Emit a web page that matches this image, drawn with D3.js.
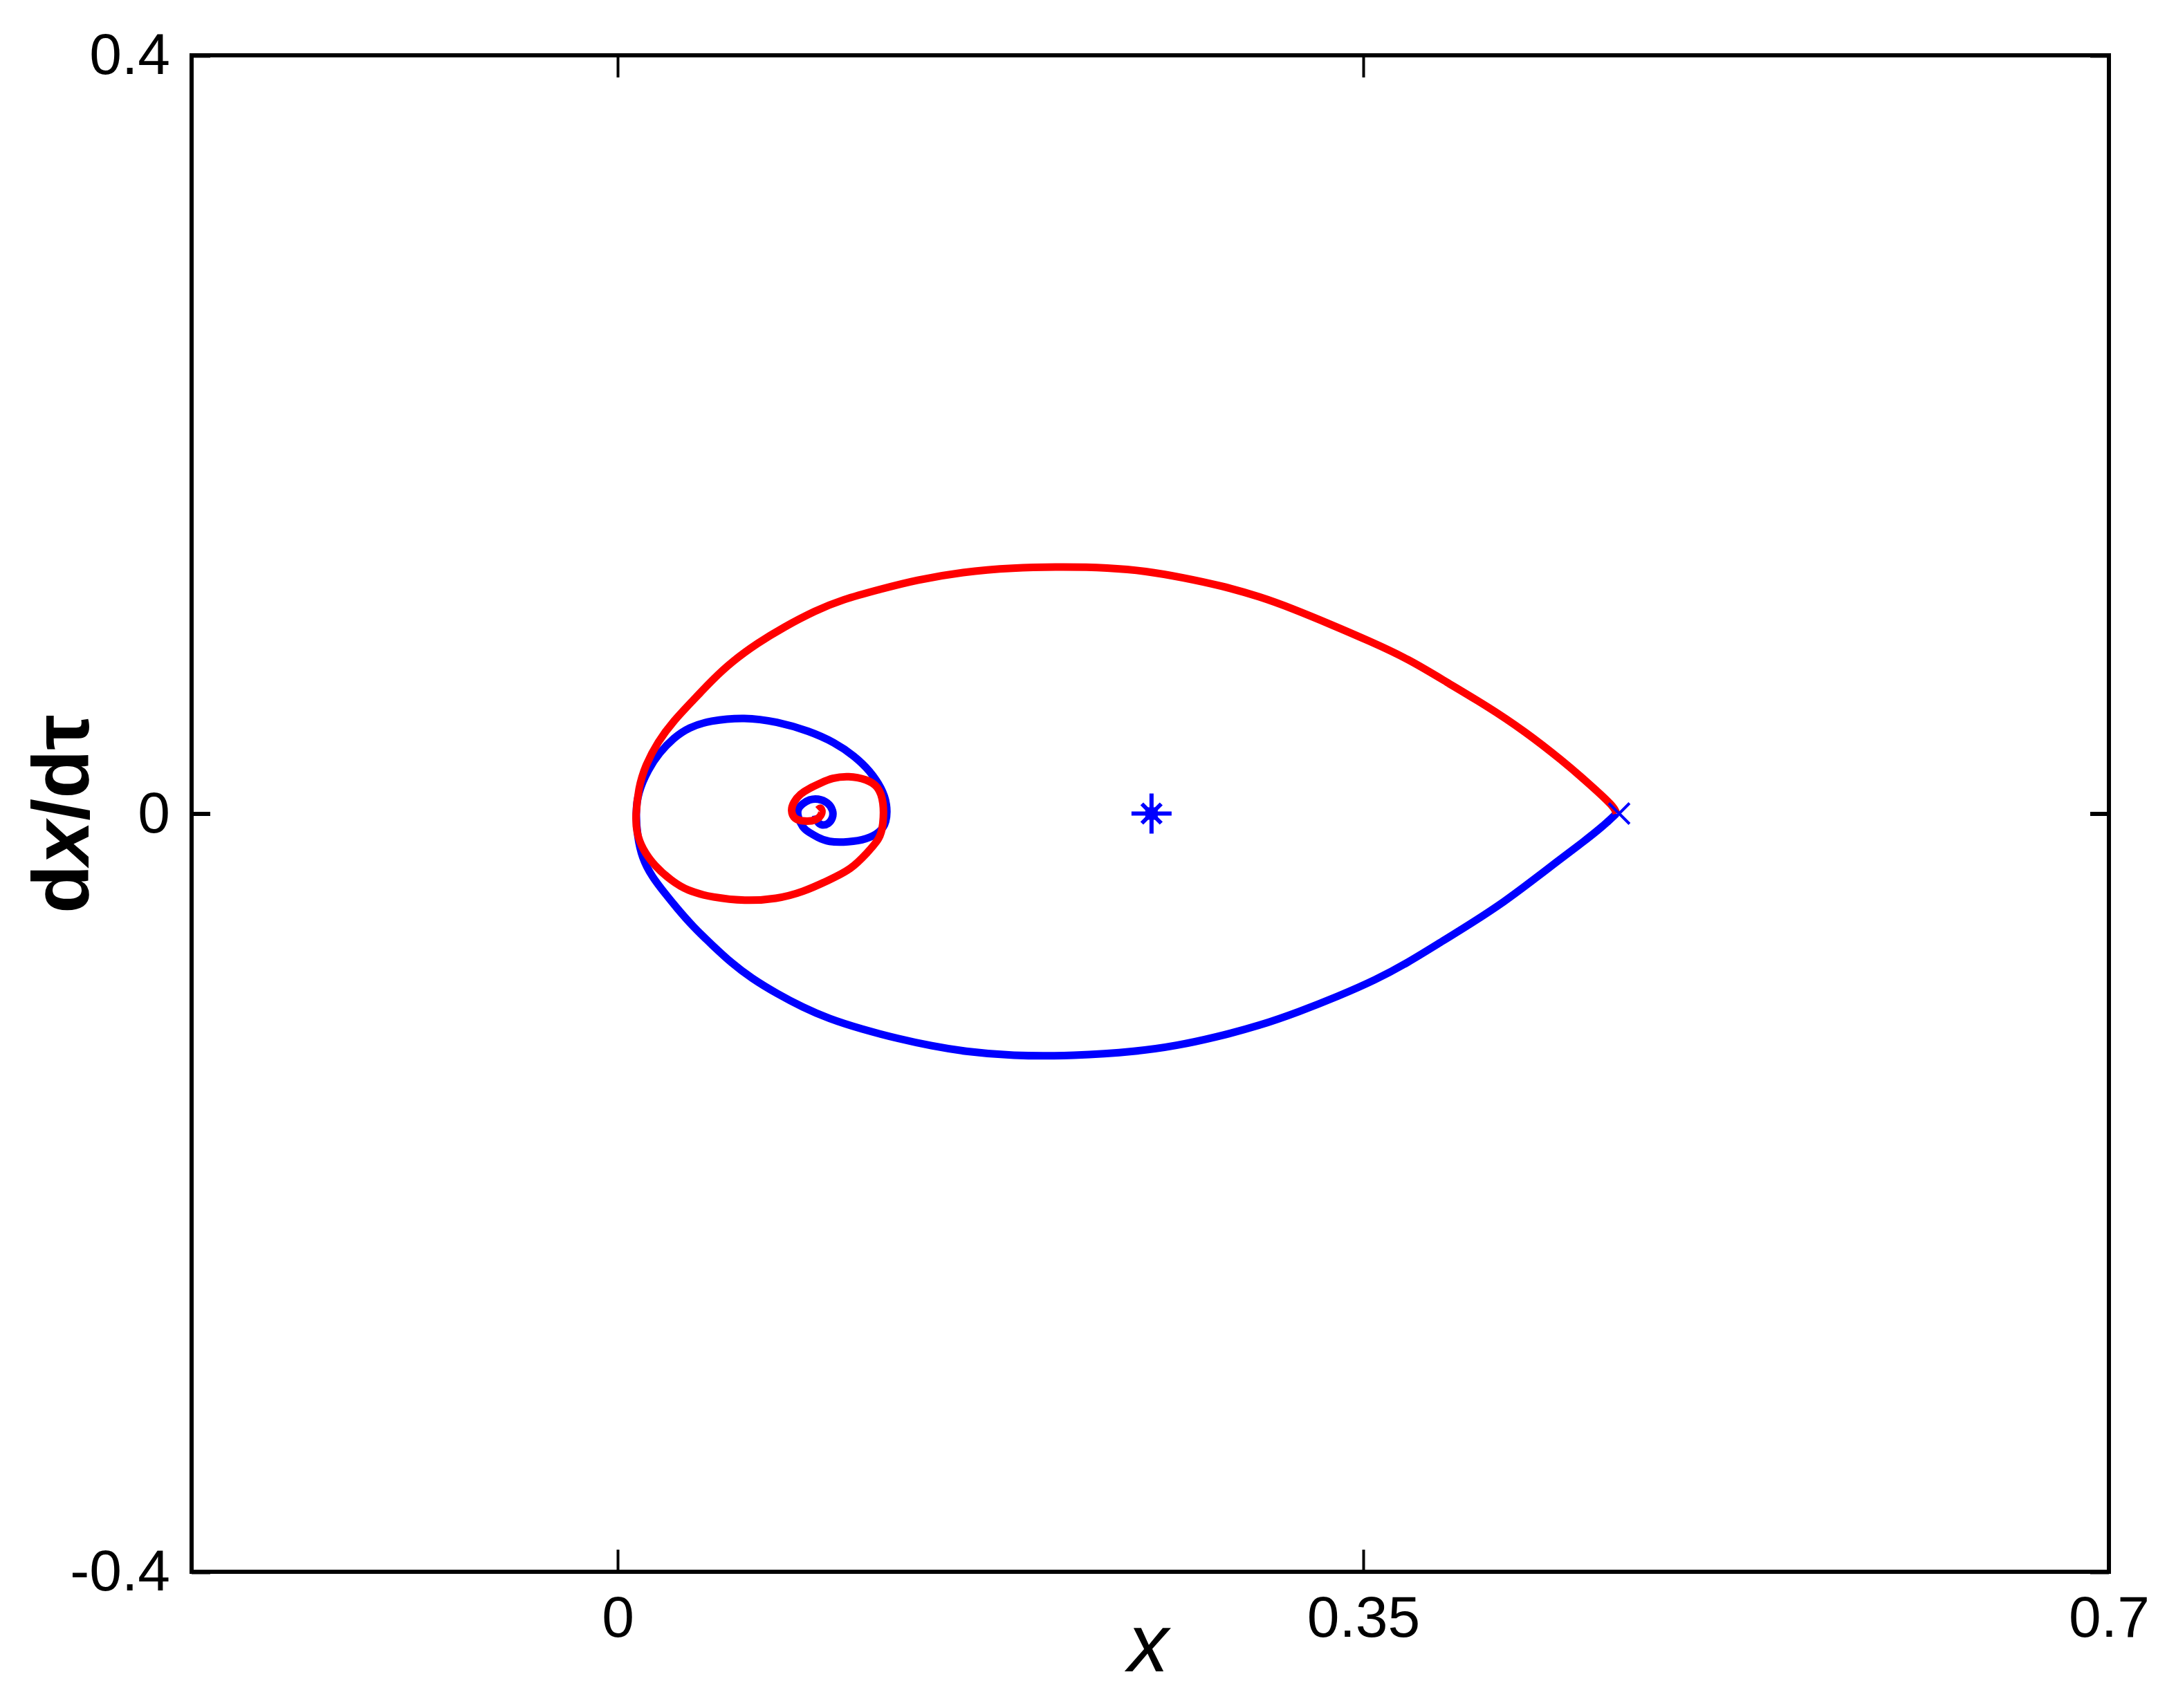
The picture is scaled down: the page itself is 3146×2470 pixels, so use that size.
<!DOCTYPE html>
<html>
<head>
<meta charset="utf-8">
<script src="https://cdn.jsdelivr.net/npm/d3@7"></script>
<style>
  body { margin: 0; background: #fff; }
  text { font-family: "Liberation Sans", Arial, sans-serif; }
</style>
</head>
<body>
<script>
// phase portrait: x vs dx/dtau
var xTicks = [0, 0.35, 0.7];
var yTicks = [-0.4, 0, 0.4];

// red trajectory (upper branch from the saddle, spiralling in)
var redPts = [
  [0.4688, 0.0000], [0.4679, 0.0035], [0.4558, 0.0159], [0.4435, 0.0279], [0.4256, 0.0436],
  [0.4075, 0.0571], [0.3893, 0.0692], [0.3711, 0.0816], [0.3529, 0.0910], [0.3347, 0.0998],
  [0.3166, 0.1082], [0.3016, 0.1144], [0.2834, 0.1202], [0.2653, 0.1245], [0.2480, 0.1280],
  [0.2300, 0.1297], [0.2101, 0.1302], [0.1850, 0.1297], [0.1620, 0.1275], [0.1399, 0.1232],
  [0.1231, 0.1183], [0.1052, 0.1128], [0.0929, 0.1071], [0.0779, 0.0983], [0.0656, 0.0899],
  [0.0536, 0.0801], [0.0445, 0.0706], [0.0354, 0.0597], [0.0263, 0.0490], [0.0188, 0.0378],
  [0.0130, 0.0254], [0.0097, 0.0133], [0.0084, -0.0013], [0.0088, -0.0097], [0.0114, -0.0184],
  [0.0175, -0.0279], [0.0250, -0.0352], [0.0325, -0.0407], [0.0445, -0.0443], [0.0597, -0.0462],
  [0.0747, -0.0451], [0.0870, -0.0414], [0.0990, -0.0352], [0.1097, -0.0294], [0.1172, -0.0206],
  [0.1231, -0.0133], [0.1247, -0.0060], [0.1250, 0.0060], [0.1224, 0.0144], [0.1169, 0.0181],
  [0.1084, 0.0199], [0.1006, 0.0188], [0.0955, 0.0162], [0.0899, 0.0133], [0.0857, 0.0104],
  [0.0825, 0.0060], [0.0812, 0.0016], [0.0828, -0.0031], [0.0877, -0.0042], [0.0932, -0.0038],
  [0.0964, 0.0000], [0.0955, 0.0035], [0.0940, 0.0020]
];

// blue trajectory (lower branch from the saddle, spiralling in)
var bluePts = [
  [0.4688, 0.0000], [0.4617, -0.0075], [0.4526, -0.0155], [0.4406, -0.0257], [0.4286, -0.0360],
  [0.4166, -0.0462], [0.4013, -0.0575], [0.3860, -0.0681], [0.3711, -0.0785], [0.3558, -0.0878],
  [0.3380, -0.0965], [0.3198, -0.1046], [0.3016, -0.1118], [0.2805, -0.1181], [0.2623, -0.1225],
  [0.2442, -0.1255], [0.2140, -0.1279], [0.1850, -0.1279], [0.1623, -0.1255], [0.1474, -0.1226],
  [0.1321, -0.1189], [0.1143, -0.1137], [0.0990, -0.1082], [0.0870, -0.1023], [0.0747, -0.0950],
  [0.0627, -0.0868], [0.0536, -0.0790], [0.0445, -0.0695], [0.0354, -0.0597], [0.0279, -0.0500],
  [0.0221, -0.0420], [0.0159, -0.0330], [0.0114, -0.0232], [0.0093, -0.0122], [0.0084, 0.0000],
  [0.0095, 0.0110], [0.0143, 0.0232], [0.0195, 0.0320], [0.0263, 0.0400], [0.0335, 0.0455],
  [0.0430, 0.0490], [0.0597, 0.0509], [0.0747, 0.0485], [0.0899, 0.0436], [0.1019, 0.0375],
  [0.1110, 0.0305], [0.1185, 0.0225], [0.1240, 0.0133], [0.1266, 0.0050], [0.1263, -0.0049],
  [0.1230, -0.0100], [0.1170, -0.0135], [0.1084, -0.0151], [0.0987, -0.0151], [0.0938, -0.0125],
  [0.0899, -0.0100], [0.0867, -0.0075], [0.0844, -0.0013], [0.0844, 0.0024], [0.0867, 0.0052],
  [0.0900, 0.0075], [0.0940, 0.0080], [0.0987, 0.0060], [0.1013, 0.0016], [0.1010, -0.0025],
  [0.0990, -0.0055], [0.0960, -0.0065], [0.0935, -0.0045], [0.0930, -0.0010]
];

var centerPt = [0.2506, 0];   // '*' marker
var saddlePt = [0.4701, 0];   // 'x' marker

var svg = d3.select('body').append('svg')
            .attr('width', 3146)
            .attr('height', 2470);

svg.append('rect').attr('width', 3146).attr('height', 2470).attr('fill', '#fff');

var x = d3.scaleLinear().domain([-0.2, 0.7]).range([277, 3049]);
var y = d3.scaleLinear().domain([-0.4, 0.4]).range([2273, 80]);

var fmt = function(d) { return String(d); };

// bottom axis with labels, ticks pointing in
var gx = svg.append('g')
            .attr('transform', 'translate(0,2273)')
            .call(d3.axisBottom(x).tickValues(xTicks).tickFormat(fmt)
                    .tickSizeInner(-32).tickSizeOuter(0).tickPadding(34));
// top axis, ticks only
var gxt = svg.append('g')
             .attr('transform', 'translate(0,80)')
             .call(d3.axisTop(x).tickValues(xTicks).tickFormat('')
                     .tickSizeInner(-32).tickSizeOuter(0));
// left axis with labels
var gy = svg.append('g')
            .attr('transform', 'translate(277,0)')
            .call(d3.axisLeft(y).tickValues(yTicks).tickFormat(fmt)
                    .tickSizeInner(-27).tickSizeOuter(0).tickPadding(31));
// right axis, ticks only
var gyr = svg.append('g')
             .attr('transform', 'translate(3049,0)')
             .call(d3.axisRight(y).tickValues(yTicks).tickFormat('')
                     .tickSizeInner(-27).tickSizeOuter(0));

svg.selectAll('.domain').remove();
gx.selectAll('line').attr('stroke', '#000').attr('stroke-width', 4);
gxt.selectAll('line').attr('stroke', '#000').attr('stroke-width', 4);
gy.selectAll('line').attr('stroke', '#000').attr('stroke-width', 6);
gyr.selectAll('line').attr('stroke', '#000').attr('stroke-width', 6);

svg.selectAll('.tick text')
   .attr('fill', '#000')
   .style('font-family', '"Liberation Sans", Arial, sans-serif')
   .style('font-size', '84px');

// axes box
svg.append('rect')
   .attr('x', 277).attr('y', 80)
   .attr('width', 3049 - 277).attr('height', 2273 - 80)
   .attr('fill', 'none')
   .attr('stroke', '#000')
   .attr('stroke-width', 6);

var line = d3.line()
             .x(function(d) { return x(d[0]); })
             .y(function(d) { return y(d[1]); })
             .curve(d3.curveBasis);

svg.append('path')
   .datum(bluePts)
   .attr('d', line)
   .attr('fill', 'none')
   .attr('stroke', '#0000ff')
   .attr('stroke-width', 11)
   .attr('stroke-linejoin', 'round');

svg.append('path')
   .datum(redPts)
   .attr('d', line)
   .attr('fill', 'none')
   .attr('stroke', '#ff0000')
   .attr('stroke-width', 11)
   .attr('stroke-linejoin', 'round');

// '*' marker
var cx = x(centerPt[0]), cy = y(centerPt[1]);
svg.append('path')
   .attr('d', 'M' + (cx - 29) + ',' + cy + 'H' + (cx + 29) +
              'M' + cx + ',' + (cy - 29) + 'V' + (cy + 29) +
              'M' + (cx - 14) + ',' + (cy - 14) + 'L' + (cx + 14) + ',' + (cy + 14) +
              'M' + (cx - 14) + ',' + (cy + 14) + 'L' + (cx + 14) + ',' + (cy - 14))
   .attr('stroke', '#0000ff')
   .attr('stroke-width', 6)
   .attr('fill', 'none');
svg.append('rect')
   .attr('x', cx - 9).attr('y', cy - 9)
   .attr('width', 18).attr('height', 18)
   .attr('fill', '#0000ff');

// 'x' marker at the saddle
var sx = x(saddlePt[0]), sy = y(saddlePt[1]);
svg.append('path')
   .attr('d', 'M' + (sx - 15) + ',' + (sy - 15) + 'L' + (sx + 15) + ',' + (sy + 15) +
              'M' + (sx - 15) + ',' + (sy + 15) + 'L' + (sx + 15) + ',' + (sy - 15))
   .attr('stroke', '#0000ff')
   .attr('stroke-width', 4)
   .attr('fill', 'none');

// axis labels
svg.append('text')
   .attr('x', 1660)
   .attr('y', 2417)
   .attr('text-anchor', 'middle')
   .style('font-size', '118px')
   .style('font-style', 'italic')
   .text('x');

var yl = svg.append('text')
            .attr('transform', 'translate(128,1177) rotate(-90)')
            .attr('text-anchor', 'middle')
            .style('font-size', '115px')
            .style('font-weight', 'bold');
yl.append('tspan').text('d');
yl.append('tspan').style('font-style', 'italic').text('x');
yl.append('tspan').text('/d\u03c4');
</script>
</body>
</html>
